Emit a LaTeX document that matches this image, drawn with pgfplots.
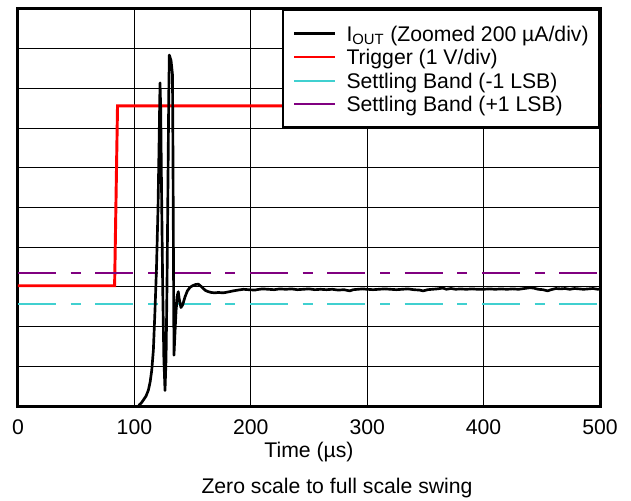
\documentclass[border=0pt]{standalone}
\usepackage{pgfplots}
\pgfplotsset{compat=1.18}
\usepackage{fontspec}
\setmainfont{Liberation Sans}
\definecolor{bandcyan}{RGB}{64,208,208}
\definecolor{bandpurple}{RGB}{128,0,128}
\begin{document}
\fontsize{15.9}{19}\selectfont
\begin{tikzpicture}
\begin{axis}[
  name=ax,
  scale only axis,
  width=436.5pt, height=297.75pt,
  xmin=0, xmax=500, ymin=0, ymax=10,
  xtick={0,100,...,500},
  ytick={0,1,...,10},
  yticklabels={},
  major tick length=0pt,
  grid=major,
  major grid style={black, line width=0.8pt},
  axis line style={black, line width=2.25pt},
  /pgf/number format/assume math mode=true,
  tick label style={font=\fontsize{15.9}{19}\selectfont},
  xticklabel style={yshift=-5pt},
  xlabel={Time (µs)},
  xlabel style={at={(axis description cs:0.5,0)}, anchor=center, yshift=-34.5pt, font=\fontsize{15.9}{19}\selectfont},
  legend cell align=left,
  legend image code/.code={\draw[#1] (0pt,0pt) -- (30.75pt,0pt);},
  legend style={at={(rel axis cs:1,1)}, anchor=north east, draw=black, line width=1.8pt, fill=white,
    inner xsep=7.6pt, inner ysep=8.6pt, row sep=0pt, column sep=7.5pt,
    font=\fontsize{15.9}{19}\selectfont,
    nodes={inner xsep=0pt, inner ysep=0.05pt, text height=14.5pt, text depth=3.1pt}},
]
% Trigger
\addplot[forget plot, red, line width=2.2pt] coordinates {(0,3.03) (83,3.03) (85.5,7.56) (500,7.56)};
% Settling bands
\addplot[forget plot, bandpurple, line width=1.5pt, dash pattern=on 28.5pt off 11pt on 7.5pt off 11pt] coordinates {(0,3.35) (500,3.35)};
\addplot[forget plot, bandcyan, line width=1.5pt, dash pattern=on 28.5pt off 11pt on 7.5pt off 11pt] coordinates {(0,2.58) (500,2.58)};
% IOUT
\addplot[forget plot, black, line width=2pt, line join=round] coordinates {
(101,-0.3) (103,-0.05) (104.2,0.03) (106,0.08) (107.7,0.15) (110,0.25) (112,0.4) (113.5,0.6)
(114.9,0.9) (116.3,1.41) (117.7,2.42) (119,3.5) (120.3,5.0) (121.3,6.8) (122,8.14)
(122.6,7.5) (123.3,5.5) (124.3,3.0) (125.3,1.2) (126.3,0.39) (127.2,1.2) (128,3.0)
(128.8,5.5) (129.5,7.8) (130,8.84) (131.5,8.7) (132.7,8.35) (133.1,6.5) (133.6,3.5)
(134,1.28) (134.8,1.8) (135.8,2.4) (137,2.8) (137.7,2.88) (138.5,2.7) (140,2.48)
(141.5,2.55) (143.5,2.75) (145.5,2.9) (147.8,2.99) (150,3.03) (152.5,3.06) (154.9,3.07)
(157,3.02) (159.2,2.96) (161,2.91) (163.5,2.88) (166,2.86) (169.2,2.85) (172,2.86)
(176.4,2.85) (180,2.87) (185,2.9) (189,2.92) (193.6,2.94) (198,2.93) (203.6,2.92)
(205,2.93) (210,2.95) (215,2.94) (220,2.93) (225,2.95) (230,2.94) (235,2.95) (240,2.93)
(245,2.94) (250,2.95) (255,2.93) (260,2.94) (265,2.93) (270,2.94) (275,2.92) (280,2.93)
(285,2.90) (288,2.93) (292,2.94) (296,2.95) (300,2.94) (305,2.93) (310,2.94) (315,2.95)
(320,2.94) (325,2.93) (330,2.94) (335,2.95) (340,2.93) (345,2.92) (348,2.90) (352,2.93)
(356,2.94) (360,2.95) (365,2.97) (368,2.94) (372,2.96) (376,2.94) (380,2.95) (385,2.94)
(390,2.95) (395,2.94) (400,2.94) (405,2.95) (410,2.94) (415,2.95) (420,2.94) (425,2.95)
(430,2.94) (435,2.96) (440,2.98) (443,2.97) (447,2.94) (451,2.93) (455,2.90) (458,2.93)
(462,2.96) (466,2.95) (470,2.96) (474,2.94) (478,2.96) (482,2.95) (486,2.94) (490,2.95)
(494,2.96) (498,2.94) (500,2.95)};
\addlegendimage{black, line width=1.6pt}
\addlegendentry{I\textsubscript{OUT} (Zoomed 200 µA/div)}
\addlegendimage{red, line width=1.6pt}
\addlegendentry{Trigger (1 V/div)}
\addlegendimage{bandcyan, line width=1.6pt}
\addlegendentry{Settling Band (-1 LSB)}
\addlegendimage{bandpurple, line width=1.6pt}
\addlegendentry{Settling Band (+1 LSB)}
\end{axis}
\node[anchor=center, font=\fontsize{15.9}{19}\selectfont] at ([xshift=239.25pt,yshift=-61.5pt]ax.south west) {Zero scale to full scale swing};
\pgfresetboundingbox
\path ([xshift=-13.5pt,yshift=-70.5pt]ax.south west) rectangle ([xshift=23.25pt,yshift=6.75pt]ax.north east);
\end{tikzpicture}
\end{document}
